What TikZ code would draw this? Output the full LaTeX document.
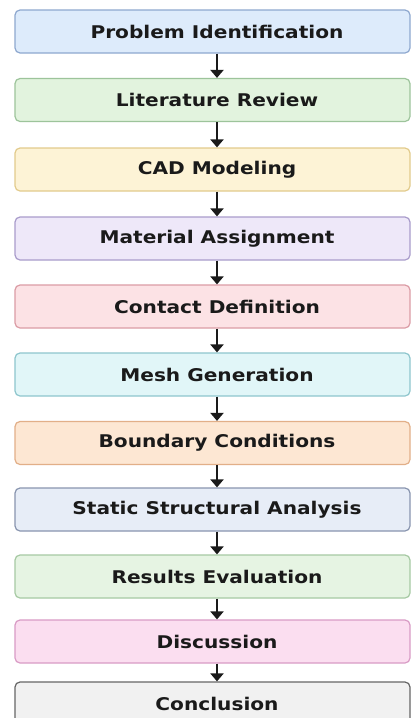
\documentclass[tikz,border=0pt]{standalone}
\usepackage{fontspec}
\setmainfont{DejaVu Sans}
\usetikzlibrary{arrows.meta}
\definecolor{f1}{HTML}{DDEBFB}\definecolor{d1}{HTML}{8EA8CF}
\definecolor{f2}{HTML}{E2F3DE}\definecolor{d2}{HTML}{9DC49B}
\definecolor{f3}{HTML}{FDF3D6}\definecolor{d3}{HTML}{E2CB8C}
\definecolor{f4}{HTML}{EEE8F9}\definecolor{d4}{HTML}{A99CCB}
\definecolor{f5}{HTML}{FCE2E5}\definecolor{d5}{HTML}{DB9CA5}
\definecolor{f6}{HTML}{E1F6F8}\definecolor{d6}{HTML}{8EC6CD}
\definecolor{f7}{HTML}{FDE7D3}\definecolor{d7}{HTML}{E2AF88}
\definecolor{f8}{HTML}{E7EDF7}\definecolor{d8}{HTML}{8995AF}
\definecolor{f9}{HTML}{E6F4E3}\definecolor{d9}{HTML}{A6C9A3}
\definecolor{f10}{HTML}{FBDEF0}\definecolor{d10}{HTML}{D99BC5}
\definecolor{f11}{HTML}{F1F1F1}\definecolor{d11}{HTML}{666666}
\definecolor{ink}{HTML}{1A1A1A}
\tikzset{
  stepbox/.style={draw=d#1, fill=f#1, line width=1.2pt, rounded corners=5pt,
    minimum width=395pt, minimum height=43pt, inner sep=0pt,
    font=\fontsize{17.5}{20}\selectfont\bfseries, text=ink},
  arr/.style={draw=ink, line width=2.6pt, -{Triangle[width=13pt,length=8pt]}},
}
\newcommand{\txt}[1]{\hspace*{9pt}\scalebox{1.15}[1]{#1}}
\begin{document}
\begin{tikzpicture}[x=1pt,y=-1pt]
\useasboundingbox (0,0) rectangle (414,718);
\fill[white] (0,0) rectangle (414,718);
\clip (0,0) rectangle (414,718);
\node[stepbox=1] (n1) at (212.5,31.5) {\txt{Problem Identification}};
\node[stepbox=2] (n2) at (212.5,100) {\txt{Literature Review}};
\node[stepbox=3] (n3) at (212.5,169.5) {\txt{CAD Modeling}};
\node[stepbox=4] (n4) at (212.5,238.5) {\txt{Material Assignment}};
\node[stepbox=5] (n5) at (212.5,306.5) {\txt{Contact Definition}};
\node[stepbox=6] (n6) at (212.5,374.5) {\txt{Mesh Generation}};
\node[stepbox=7] (n7) at (212.5,443) {\txt{Boundary Conditions}};
\node[stepbox=8] (n8) at (212.5,509.5) {\txt{Static Structural Analysis}};
\node[stepbox=9] (n9) at (212.5,576.5) {\txt{Results Evaluation}};
\node[stepbox=10] (n10) at (212.5,641.5) {\txt{Discussion}};
\node[stepbox=11] (n11) at (212.5,703.5) {\txt{Conclusion}};
\foreach \a/\b in {n1/n2,n2/n3,n3/n4,n4/n5,n5/n6,n6/n7,n7/n8,n8/n9,n9/n10,n10/n11}
  \draw[arr] ([xshift=4.5pt]\a.south) -- ([xshift=4.5pt]\b.north);
\end{tikzpicture}
\end{document}
